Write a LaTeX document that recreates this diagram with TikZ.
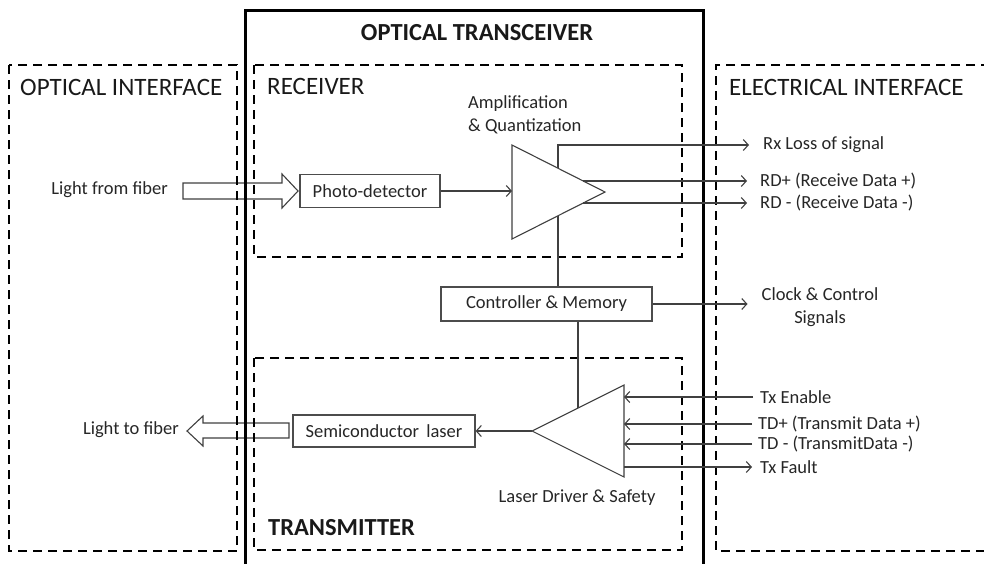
\documentclass[tikz,border=0pt]{standalone}
\usepackage{fontspec}
\setmainfont{Carlito}
\usetikzlibrary{arrows.meta,calc}

\begin{document}
\begin{tikzpicture}[x=1pt,y=-1pt,
    region/.style={draw=black,line width=2.6pt,dash pattern=on 9pt off 6pt},
    casing/.style={draw=black,line width=3pt},
    block/.style={draw=black!70,line width=1.2pt,fill=white,inner sep=0pt,minimum height=33pt,font=\fontsize{18.5}{22}\selectfont,text=black!85},
    amp/.style={draw=black!75,line width=1.1pt,fill=white},
    fat/.style={draw=black!75,line width=1.1pt,fill=white},
    wire/.style={draw=black!75,line width=1.1pt},
    sig/.style={wire,-{Straight Barb[length=5pt,width=11pt]}},
    lbl/.style={font=\fontsize{18.5}{23}\selectfont,text=black!85,inner sep=0pt},
    head/.style={font=\fontsize{25}{28}\selectfont,text=black!90,inner sep=0pt,anchor=west}
  ]
  \useasboundingbox (0,0) rectangle (984,563);

  % block arrows for the light path
  \draw[fat] (183,183) -- (282,183) -- (282,174) -- (298,191) -- (282,208) -- (282,199) -- (183,199) -- cycle;
  \draw[fat] (289,423) -- (203,423) -- (203,416) -- (187,431) -- (203,446) -- (203,438) -- (289,438) -- cycle;

  % regions
  \draw[region] (9,65) rectangle (237,551);
  \draw[region] (254,65) rectangle (682,257);
  \draw[region] (254,358) rectangle (682,550);
  \draw[region] (990,65) -- (716,65) -- (716,551) -- (990,551);
  \draw[casing] (245,570) -- (245,10) -- (703,10) -- (703,570);

  \node[head,font=\fontsize{24.5}{28}\selectfont\bfseries,anchor=center] (title) at (477,33) {OPTICAL TRANSCEIVER};
  \node[head] (optif) at (20,87) {OPTICAL INTERFACE};
  \node[head] (rxhead) at (267,86) {RECEIVER};
  \node[head] (elif) at (729,87) {ELECTRICAL INTERFACE};
  \node[head,font=\fontsize{24.5}{28}\selectfont\bfseries] (txhead) at (268,528) {TRANSMITTER};

  % blocks
  \node[block,minimum width=140pt] (pd) at (370,191) {Photo-detector};
  \node[block,minimum width=211pt,minimum height=34pt] (ctrl) at (546.5,304) {Controller \& Memory};
  \node[block,minimum width=182pt,minimum height=32pt] (laser) at (384,431) {Semiconductor\, laser};

  \coordinate (ampT) at (512,145);
  \coordinate (ampP) at (605,192);
  \coordinate (ampB) at (512,239);
  \coordinate (drvT) at (624,385);
  \coordinate (drvP) at (532,431);
  \coordinate (drvB) at (624,477);
  \coordinate (lostap) at (558,145);
  \coordinate (rdptap) at ($(ampT)!0.766!(ampP)$);
  \coordinate (rdmtap) at ($(ampP)!0.234!(ampB)$);

  % labels
  \node[lbl,anchor=east] (fibin) at (168,190) {Light from fiber};
  \node[lbl,anchor=east] (fibout) at (179,430) {Light to fiber};
  \node[lbl,anchor=west,align=left] (amplbl) at (468,115) {Amplification\\\& Quantization};
  \node[lbl] (drvlbl) at (577,498) {Laser Driver \& Safety};
  \node[lbl,anchor=west] (rxlos) at (763,145) {Rx Loss of signal};
  \node[lbl,anchor=west] (rdp) at (760,181) {RD+ (Receive Data +)};
  \node[lbl,anchor=west] (rdm) at (760,203) {RD - (Receive Data -)};
  \node[lbl,align=center] (clk) at (820,307) {Clock \& Control\\Signals};
  \node[lbl,anchor=west] (txen) at (760,397) {Tx Enable};
  \node[lbl,anchor=west] (tdp) at (758,424) {TD+ (Transmit Data +)};
  \node[lbl,anchor=west] (tdm) at (758,444) {TD - (TransmitData -)};
  \node[lbl,anchor=west] (txf) at (760,467) {Tx Fault};

  % receiver wiring
  \draw[sig,shorten >=14pt] (ctrl.north -| lostap) -- (lostap) -- (rxlos.west);
  \draw[amp] (ampT) -- (ampP) -- (ampB) -- cycle;
  \draw[sig] (pd.east) -- (pd.east -| ampT);
  \draw[sig,shorten >=13pt] (rdptap) -- (rdptap -| rdp.west);
  \draw[sig,shorten >=13pt] (rdmtap) -- (rdmtap -| rdm.west);

  % control
  \draw[sig,shorten >=14pt] (ctrl.east) -- (ctrl.east -| clk.west);
  \draw[wire] (ctrl.south -| 578,0) -- (578,420);

  % transmitter wiring
  \draw[amp] (drvT) -- (drvP) -- (drvB) -- cycle;
  \draw[sig] (drvP) -- (laser.east);
  \draw[sig,shorten <=7pt] (txen.west) -- (txen.west -| drvT);
  \draw[sig,shorten <=6pt] (tdp.west) -- (tdp.west -| drvT);
  \draw[sig,shorten <=6pt] (tdm.west) -- (tdm.west -| drvT);
  \draw[sig,shorten >=8pt] (txf.west -| drvT) -- (txf.west);
\end{tikzpicture}
\end{document}
